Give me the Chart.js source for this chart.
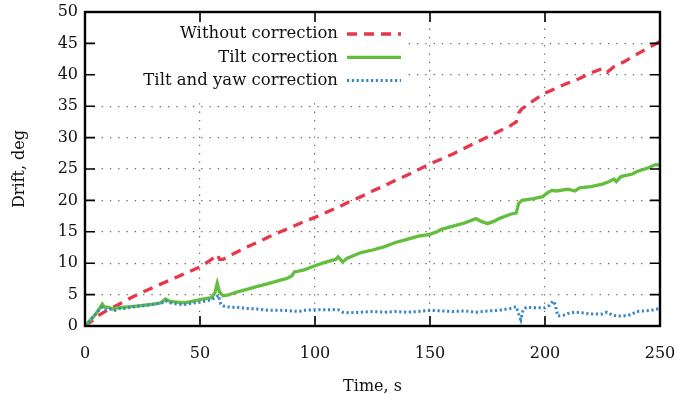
<!DOCTYPE html>
<html>
<head>
<meta charset="utf-8">
<script src="https://cdn.jsdelivr.net/npm/chart.js@4.4.1/dist/chart.umd.min.js"></script>
<style>
html, body { margin: 0; padding: 0; background: #fff; }
</style>
</head>
<body>
<canvas id="driftChart" width="678" height="403"></canvas>
<script>
// datos
var seriesNames = ['Without correction', 'Tilt correction', 'Tilt and yaw correction'];
var xTicks = [0, 50, 100, 150, 200, 250];
var yTicks = [0, 5, 10, 15, 20, 25, 30, 35, 40, 45, 50];

var timeSinCorr = [0, 3, 6, 10, 15, 20, 25, 30, 35, 40, 45, 50, 55, 57.5, 58.5, 60, 65, 70, 75, 80, 85, 90, 95, 100,
    105, 110, 115, 120, 125, 130, 135, 140, 145, 150, 155, 160, 165, 170, 175, 180, 185, 187.5, 188.5, 190, 195, 200,
    205, 210, 215, 220, 225, 227, 230, 235, 240, 245, 250];
var driftSinCorr = [0, 0.8, 1.7, 2.6, 3.5, 4.5, 5.4, 6.2, 7.0, 7.8, 8.6, 9.4, 10.6, 11.4, 10.6, 10.6, 11.6, 12.5, 13.3, 14.2, 15.0, 15.8, 16.6, 17.3,
    18.1, 18.9, 19.8, 20.6, 21.5, 22.3, 23.2, 24.0, 24.9, 25.8, 26.6, 27.4, 28.3, 29.2, 30.1, 31.0, 31.9, 32.5, 33.9, 34.6, 35.9, 37.1,
    37.9, 38.7, 39.4, 40.3, 41.0, 40.4, 41.3, 42.2, 43.3, 44.3, 45.3];

var timeTilt = [0, 2, 4, 6, 7.5, 8.5, 10, 12, 14, 17, 20, 25, 30, 33, 35, 37, 40, 43, 46, 50, 53, 55, 56.5, 57.5, 58.5, 60,
    62, 65, 70, 75, 80, 85, 88, 90, 91, 95, 100, 105, 109, 110, 111, 112, 114, 120, 125, 130, 135, 140, 145, 150,
    153, 155, 160, 165, 170, 172, 175, 178, 180, 185, 187.5, 188.5, 190, 195, 199, 201, 203, 205, 210, 213, 215,
    220, 225, 228, 230, 231, 233, 238, 240, 245, 248, 250];
var driftTilt = [0, 0.8, 1.6, 2.6, 3.5, 3.0, 3.0, 2.7, 2.9, 3.0, 3.1, 3.3, 3.5, 3.7, 4.3, 3.9, 3.8, 3.7, 3.9, 4.2, 4.4, 4.5, 5.3, 6.8, 5.4, 4.8,
    4.9, 5.3, 5.8, 6.3, 6.8, 7.3, 7.6, 8.0, 8.6, 8.9, 9.6, 10.2, 10.6, 11.0, 10.6, 10.2, 10.8, 11.7, 12.1, 12.6, 13.3, 13.8, 14.3, 14.6,
    15.0, 15.4, 15.9, 16.4, 17.1, 16.7, 16.3, 16.7, 17.1, 17.8, 18.0, 19.5, 20.0, 20.3, 20.6, 21.2, 21.6, 21.5, 21.8, 21.5, 22.0,
    22.2, 22.6, 23.0, 23.4, 23.0, 23.8, 24.2, 24.6, 25.2, 25.7, 25.6];

var timeTiltYaw = [0, 2, 4, 6, 7.5, 9, 11, 13, 15, 18, 20, 25, 30, 33, 35, 37, 40, 43, 46, 50, 53, 55, 57, 58, 59, 60,
    63, 66, 70, 75, 80, 85, 90, 93, 95, 100, 105, 110, 112, 115, 120, 125, 130, 135, 140, 145, 150, 155, 160, 165,
    170, 175, 180, 185, 187.5, 188.5, 189.5, 190.5, 192, 195, 200, 202, 203.5, 204.5, 205.5, 208, 210, 213, 216,
    220, 225, 227, 229, 231, 234, 237, 240, 243, 246, 250];
var driftTiltYaw = [0, 0.8, 1.6, 2.5, 3.0, 2.6, 2.7, 2.5, 2.8, 2.8, 3.0, 3.2, 3.5, 3.6, 4.0, 3.7, 3.5, 3.4, 3.6, 3.8, 4.0, 4.2, 4.6, 4.9, 3.5, 3.2,
    3.0, 3.0, 2.8, 2.7, 2.5, 2.5, 2.4, 2.3, 2.5, 2.6, 2.6, 2.6, 2.2, 2.1, 2.2, 2.3, 2.2, 2.3, 2.2, 2.3, 2.5, 2.4, 2.3, 2.4,
    2.2, 2.4, 2.5, 2.8, 3.1, 2.0, 1.0, 2.6, 3.0, 2.9, 2.9, 3.3, 4.0, 3.4, 1.6, 1.7, 2.0, 2.2, 2.1,
    1.9, 1.9, 2.2, 1.8, 1.6, 1.6, 1.8, 2.3, 2.4, 2.5, 2.8];

var colores = ['rgb(230, 55, 75)', 'rgb(98, 190, 60)', 'rgb(55, 135, 200)'];
var trazos = [[10, 7], [], [2.2, 2.6]];
var grosores = [3.3, 3.3, 3];

function puntos(xs, ys) {
    return xs.map(function (x, i) { return { x: x, y: ys[i] }; });
}

var fuente = 'DejaVu Serif';

var dataDrift = {
    datasets: [{
        label: seriesNames[0],
        data: puntos(timeSinCorr, driftSinCorr),
        borderColor: colores[0],
        borderWidth: grosores[0],
        borderDash: trazos[0],
        order: 3
    }, {
        label: seriesNames[1],
        data: puntos(timeTilt, driftTilt),
        borderColor: colores[1],
        borderWidth: grosores[1],
        borderDash: trazos[1],
        order: 2
    }, {
        label: seriesNames[2],
        data: puntos(timeTiltYaw, driftTiltYaw),
        borderColor: colores[2],
        borderWidth: grosores[2],
        borderDash: trazos[2],
        order: 1
    }]
};

// leyenda estilo gnuplot, marco y ticks hacia dentro
var pluginGnuplot = {
    id: 'gnuplotStyle',
    beforeDatasetsDraw: function (chart) {
        var ctx = chart.ctx, a = chart.chartArea;
        ctx.save();
        ctx.fillStyle = '#fff';
        ctx.fillRect(a.left, a.top, 408 - a.left, 98 - a.top);
        ctx.restore();
    },
    afterDraw: function (chart) {
        var ctx = chart.ctx, a = chart.chartArea;
        var xs = chart.scales.x, ys = chart.scales.y;
        ctx.save();
        ctx.strokeStyle = '#000';
        ctx.lineWidth = 1.6;
        ctx.setLineDash([]);
        ctx.beginPath();
        xTicks.forEach(function (v) {
            var px = xs.getPixelForValue(v);
            ctx.moveTo(px, a.bottom); ctx.lineTo(px, a.bottom - 10);
            ctx.moveTo(px, a.top); ctx.lineTo(px, a.top + 10);
        });
        yTicks.forEach(function (v) {
            var py = ys.getPixelForValue(v);
            ctx.moveTo(a.left, py); ctx.lineTo(a.left + 10, py);
            ctx.moveTo(a.right, py); ctx.lineTo(a.right - 10, py);
        });
        ctx.stroke();
        ctx.lineWidth = 2.4;
        ctx.strokeRect(a.left, a.top, a.right - a.left, a.bottom - a.top);

        // leyenda
        ctx.font = '16.5px "' + fuente + '"';
        ctx.textAlign = 'right';
        ctx.textBaseline = 'middle';
        chart.data.datasets.forEach(function (ds, i) {
            var y = 34 + i * 23.3;
            ctx.fillStyle = '#111';
            ctx.fillText(ds.label, 338, y);
            ctx.strokeStyle = ds.borderColor;
            ctx.lineWidth = ds.borderWidth;
            ctx.setLineDash(ds.borderDash);
            ctx.beginPath();
            ctx.moveTo(347, y);
            ctx.lineTo(401, y);
            ctx.stroke();
        });
        ctx.restore();
    }
};

var opcionesDrift = {
    responsive: false,
    animation: false,
    layout: { padding: { left: 0, right: 18, top: 12, bottom: 0 } },
    plugins: {
        legend: { display: false },
        tooltip: { enabled: false }
    },
    elements: {
        point: { radius: 0 },
        line: { tension: 0, fill: false, borderCapStyle: 'butt' }
    },
    scales: {
        x: {
            type: 'linear',
            min: 0,
            max: 250,
            afterFit: function (scale) { scale.height = 77; },
            afterBuildTicks: function (scale) { scale.ticks = xTicks.map(function (v) { return { value: v }; }); },
            ticks: { padding: 0, color: '#111', font: { family: fuente, size: 16 } },
            grid: { color: '#666', lineWidth: 1.2, drawTicks: true, tickLength: 18, tickColor: 'rgba(0,0,0,0)' },
            border: { display: false, dash: [1.3, 7] },
            title: {
                display: true,
                text: 'Time, s',
                color: '#111',
                font: { family: fuente, size: 16 },
                padding: { top: 0, bottom: 7 }
            }
        },
        y: {
            min: 0,
            max: 50,
            afterFit: function (scale) { scale.width = 85; },
            afterBuildTicks: function (scale) { scale.ticks = yTicks.map(function (v) { return { value: v }; }); },
            ticks: { padding: 0, color: '#111', font: { family: fuente, size: 16 } },
            grid: { color: '#666', lineWidth: 1.2, drawTicks: true, tickLength: 7, tickColor: 'rgba(0,0,0,0)' },
            border: { display: false, dash: [1.3, 7] },
            title: {
                display: true,
                text: 'Drift, deg',
                color: '#111',
                font: { family: fuente, size: 16 },
                padding: { top: 10, bottom: 0 }
            }
        }
    }
};

var ctxDrift = document.getElementById('driftChart').getContext('2d');
var chartDrift = new Chart(ctxDrift, {
    type: 'line',
    data: dataDrift,
    options: opcionesDrift,
    plugins: [pluginGnuplot]
});
</script>
</body>
</html>
